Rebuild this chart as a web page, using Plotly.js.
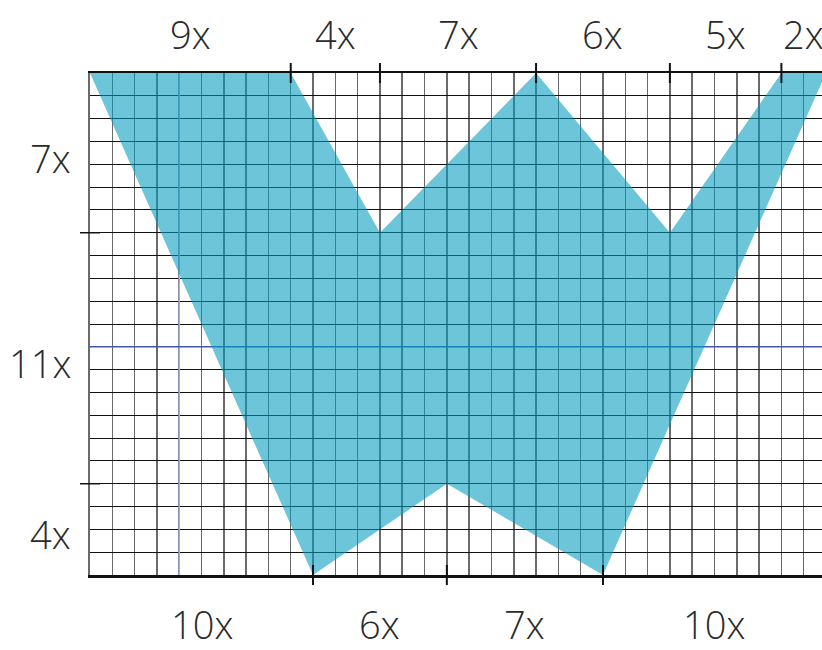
<!DOCTYPE html>
<html>
<head>
<meta charset="utf-8">
<script src="https://cdn.plot.ly/plotly-3.0.1.min.js"></script>
<style>
  html, body { margin: 0; padding: 0; overflow: hidden; background: #fff; }
  #chart { width: 840px; height: 650px; }
</style>
</head>
<body>
<div id="chart"></div>
<script>
// ---- data ----
const topCounts = [9, 4, 7, 6, 5, 2];
const bottomCounts = [10, 6, 7, 10];
const leftCounts = [7, 11, 4];
const polyCols = [0, 9, 13, 20, 26, 31, 33, 23, 16, 10, 0];
const polyRows = [0, 0, 7, 0, 7, 0, 0, 22, 18, 22, 0];
const markerCol = 4;
const markerRow = 12;

// ---- helpers ----
const sum = a => a.reduce((s, v) => s + v, 0);
function bounds(counts) { const b = [0]; counts.forEach(c => b.push(b[b.length - 1] + c)); return b; }
function centers(counts) { const b = bounds(counts); return counts.map((c, i) => b[i] + c / 2); }

const nCols = sum(topCounts);
const nRows = sum(leftCounts);
const plotW = 736, plotH = 502;
const fontStyle = { family: '"Open Sans", Lato, sans-serif', size: 38, color: '#2a2a2a', weight: 300, stretch: 'condensed' };

const shapes = [];
// reference lines
shapes.push({ type: 'line', layer: 'between', xref: 'x', yref: 'y', x0: markerCol, x1: markerCol, y0: 0, y1: nRows, line: { color: '#9fb0e0', width: 1.6 } });
shapes.push({ type: 'line', layer: 'between', xref: 'x', yref: 'y', x0: 0, x1: nCols, y0: markerRow, y1: markerRow, line: { color: '#3d5ab0', width: 1.4 } });
// crossing ticks
const tickHalfY = 10 / plotH, tickHalfX = 10 / plotW;
bounds(topCounts).slice(1, -1).forEach(v => shapes.push({ type: 'line', layer: 'above', xref: 'x', yref: 'paper', x0: v, x1: v, y0: 1 - tickHalfY, y1: 1 + tickHalfY, line: { color: '#111', width: 2 } }));
bounds(bottomCounts).slice(1, -1).forEach(v => shapes.push({ type: 'line', layer: 'above', xref: 'x', yref: 'paper', x0: v, x1: v, y0: -tickHalfY, y1: tickHalfY, line: { color: '#111', width: 2 } }));
bounds(leftCounts).slice(1, -1).forEach(v => shapes.push({ type: 'line', layer: 'above', xref: 'paper', yref: 'y', x0: -tickHalfX, x1: tickHalfX, y0: v, y1: v, line: { color: '#111', width: 1.5 } }));

const annotations = [];
centers(topCounts).forEach((c, i) => annotations.push({ xref: 'x', yref: 'paper', x: c, y: 1, yanchor: 'middle', yshift: 39, showarrow: false, text: topCounts[i] + 'x', font: fontStyle }));
centers(bottomCounts).forEach((c, i) => annotations.push({ xref: 'x', yref: 'paper', x: c, y: 0, yanchor: 'middle', yshift: -49, showarrow: false, text: bottomCounts[i] + 'x', font: fontStyle }));
centers(leftCounts).forEach((c, i) => annotations.push({ xref: 'paper', yref: 'y', x: 0, y: c, xanchor: 'right', xshift: -17, yshift: -5, showarrow: false, text: leftCounts[i] + 'x', font: fontStyle }));

const trace = {
  type: 'scatter', mode: 'lines', x: polyCols, y: polyRows,
  fill: 'toself', fillcolor: 'rgba(2,155,188,0.58)',
  line: { width: 0 }, hoverinfo: 'skip'
};

const layout = {
  width: 840, height: 650,
  margin: { l: 90, r: 14, t: 73, b: 75 },
  paper_bgcolor: '#fff', plot_bgcolor: '#fff',
  showlegend: false,
  xaxis: { range: [0, nCols], tick0: 0, dtick: 1, showgrid: true, gridcolor: '#6a6a6a', gridwidth: 1.5,
           zeroline: false, showticklabels: false, ticks: '', showline: true, linecolor: '#111', linewidth: 2.5, mirror: true, fixedrange: true },
  yaxis: { range: [nRows, 0], tick0: 0, dtick: 1, showgrid: true, gridcolor: '#111', gridwidth: 1,
           zeroline: false, showticklabels: false, ticks: '', showline: true, linecolor: '#6a6a6a', linewidth: 2.5, fixedrange: true },
  shapes: shapes,
  annotations: annotations
};

Plotly.newPlot('chart', [trace], layout, { displayModeBar: false, staticPlot: true });
</script>
</body>
</html>
